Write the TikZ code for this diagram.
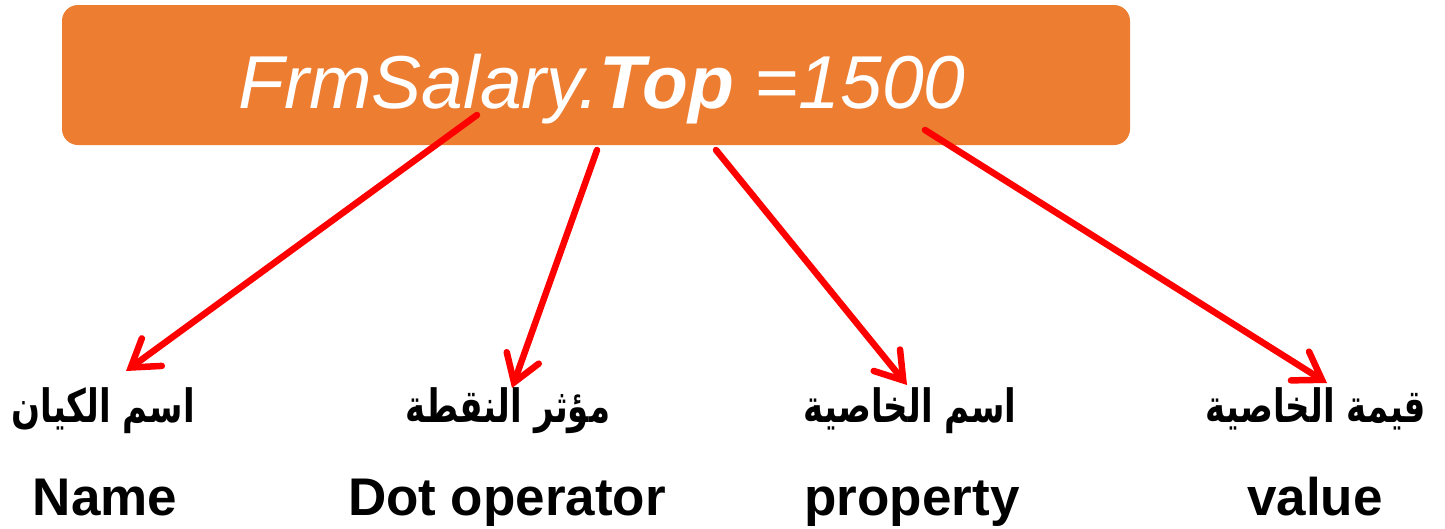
\documentclass[tikz,border=0pt]{standalone}
\usepackage{fontspec}
\setmainfont{Liberation Sans}
\newfontfamily\arabicfont[Script=Arabic]{DejaVu Sans}
\TeXXeTstate=1
\usetikzlibrary{arrows.meta}
\definecolor{boxorange}{HTML}{ED7D31}
\definecolor{arrowred}{HTML}{FF0000}
\newcommand{\artext}[1]{\scalebox{1}[1.35]{\beginR #1\endR}}
\begin{document}
\begin{tikzpicture}[x=1pt,y=-1pt,
  mainbox/.style={fill=boxorange, draw=none, rounded corners=16pt, minimum width=1068pt, minimum height=140pt, inner sep=0pt},
  pointer/.style={draw=arrowred, line width=6.5pt, line cap=round, -{Straight Barb[length=26pt,width=34pt,line width=6.5pt,line cap=round]}},
  arlabel/.style={font=\arabicfont\bfseries\fontsize{34}{40}\selectfont, anchor=base, inner sep=0pt},
  enlabel/.style={font=\bfseries\fontsize{53}{60}\selectfont, anchor=base, inner sep=0pt}]
\useasboundingbox (0,0) rectangle (1445,528);
\node[mainbox] (box) at (596,75) {};
\node[text=white, font=\fontsize{75}{84}\selectfont, anchor=base, inner sep=0pt] (code) at (602,108) {\itshape FrmSalary.\textbf{Top} =1500};
\node[arlabel] (a1) at (103,422) {\artext{اسم الكيان}};
\node[arlabel] (a2) at (508,422) {\artext{مؤثر النقطة}};
\node[arlabel] (a3) at (910,422) {\artext{اسم الخاصية}};
\node[arlabel] (a4) at (1316,422) {\artext{قيمة الخاصية}};
\node[enlabel] (e1) at (105,515) {Name};
\node[enlabel] (e2) at (507,515) {Dot operator};
\node[enlabel] (e3) at (912,515) {property};
\node[enlabel] (e4) at (1315,515) {value};
\coordinate (s1) at (477,115);
\coordinate (s2) at (597,150);
\coordinate (s3) at (716,150);
\coordinate (s4) at (925,130);
\coordinate (t1) at (126,371);
\coordinate (t2) at (512,388);
\coordinate (t3) at (907,385);
\coordinate (t4) at (1327,383);
\draw[pointer] (s1) -- (t1);
\draw[pointer] (s2) -- (t2);
\draw[pointer] (s3) -- (t3);
\draw[pointer] (s4) -- (t4);
\end{tikzpicture}
\end{document}
